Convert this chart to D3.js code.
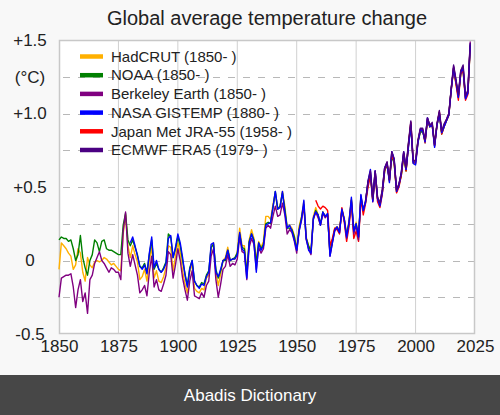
<!DOCTYPE html>
<html><head><meta charset="utf-8">
<script src="https://cdn.jsdelivr.net/npm/d3@7"></script>
<style>
html,body{margin:0;padding:0;background:#f8f8f8;}
svg{display:block;font-family:"Liberation Sans",Arial,sans-serif;}
</style></head>
<body>
<svg id="c" width="500" height="415"></svg>
<script>
const title = "Global average temperature change";
const xTicks = [1850,1875,1900,1925,1950,1975,2000,2025];
const yTickVals = [1.5,1.25,1.0,0.5,0,-0.5];
const yTickLabels = ["+1.5","(°C)","+1.0","+0.5","0","-0.5"];
const seriesNames = ["HadCRUT (1850- )","NOAA (1850- )","Berkeley Earth (1850- )","NASA GISTEMP (1880- )","Japan Met JRA-55 (1958- )","ECMWF ERA5 (1979- )"];
const seriesStart = [1850,1850,1850,1880,1958,1979];
const seriesColors = ["#ffb000","#008000","#800080","#0000ff","#ff0000","#4b0082"];
const drawOrder = [0,1,4,2,3,5];

const hadcrut = [-0.06,0.12,0.10,0.08,0.05,0.03,-0.06,-0.03,0.08,0.05,
-0.08,-0.14,0.02,-0.03,-0.05,-0.01,0.00,-0.01,0.00,0.02,
0.01,-0.01,-0.03,-0.02,-0.04,-0.06,-0.07,0.18,0.31,0.10,
0.02,0.10,0.04,-0.01,-0.13,-0.11,-0.06,-0.14,0.00,0.09,
-0.12,-0.07,-0.14,-0.15,-0.11,-0.05,0.10,0.09,-0.07,0.03,
0.12,0.05,-0.07,-0.16,-0.22,-0.08,-0.02,-0.19,-0.21,-0.22,
-0.19,-0.20,-0.12,-0.10,0.08,0.12,-0.08,-0.17,-0.09,0.00,
0.02,0.09,0.00,0.01,0.01,0.06,0.22,0.10,0.10,-0.08,
0.14,0.21,0.15,0.00,0.13,0.09,0.13,0.30,0.30,0.28,
0.38,0.46,0.35,0.37,0.47,0.37,0.22,0.24,0.22,0.17,
0.08,0.23,0.30,0.40,0.16,0.10,0.07,0.30,0.36,0.31,
0.24,0.33,0.30,0.32,0.04,0.14,0.22,0.23,0.21,0.35,
0.29,0.17,0.27,0.42,0.20,0.26,0.16,0.44,0.34,0.41,
0.53,0.60,0.41,0.60,0.42,0.38,0.47,0.62,0.66,0.54,
0.72,0.67,0.47,0.52,0.58,0.72,0.61,0.78,0.93,0.66,
0.66,0.80,0.88,0.88,0.80,0.96,0.91,0.93,0.78,0.92,
1.01,0.87,0.92,0.95,0.99,1.16,1.31,1.20,1.11,1.27,
1.30,1.10,1.14,1.47];

const noaa = [0.14,0.16,0.15,0.15,0.13,0.14,0.08,0.00,0.04,0.17,
0.02,-0.05,-0.10,0.00,0.04,0.14,0.12,0.06,0.13,0.14,
0.08,0.07,0.07,0.06,0.05,0.04,0.04,0.24,0.32,0.14,
0.10,0.14,0.09,0.04,-0.04,-0.05,-0.02,-0.08,0.04,0.14,
-0.06,-0.02,-0.06,-0.08,-0.05,-0.01,0.18,0.16,0.02,0.08,
0.16,0.10,0.00,-0.09,-0.17,-0.05,0.00,-0.14,-0.17,-0.18,
-0.15,-0.16,-0.10,-0.07,0.09,0.11,-0.06,-0.12,-0.07,0.00,
0.00,0.07,0.00,0.01,0.02,0.05,0.18,0.09,0.08,-0.09,
0.13,0.18,0.14,-0.02,0.12,0.08,0.11,0.25,0.26,0.25,
0.36,0.47,0.35,0.37,0.46,0.35,0.22,0.22,0.21,0.16,
0.07,0.21,0.29,0.38,0.15,0.10,0.06,0.28,0.34,0.31,
0.25,0.33,0.30,0.31,0.05,0.13,0.21,0.22,0.20,0.34,
0.28,0.17,0.26,0.41,0.20,0.25,0.16,0.43,0.34,0.40,
0.52,0.58,0.41,0.59,0.42,0.38,0.46,0.61,0.65,0.55,
0.71,0.66,0.47,0.51,0.58,0.71,0.61,0.79,0.92,0.67,
0.67,0.81,0.87,0.88,0.81,0.95,0.91,0.92,0.79,0.92,
1.00,0.86,0.91,0.95,0.99,1.17,1.30,1.21,1.12,1.27,
1.29,1.11,1.14,1.46];

const berkeley = [-0.25,-0.12,-0.11,-0.10,-0.10,-0.09,-0.18,-0.32,-0.20,-0.13,
-0.28,-0.22,-0.36,-0.13,-0.10,-0.02,0.02,0.06,0.00,-0.02,
-0.05,-0.08,-0.05,-0.06,-0.08,-0.08,-0.13,0.20,0.33,0.05,
-0.04,0.04,-0.03,-0.10,-0.22,-0.20,-0.17,-0.24,-0.08,0.03,
-0.18,-0.13,-0.20,-0.21,-0.16,-0.10,0.06,0.04,-0.12,-0.03,
0.08,0.00,-0.12,-0.20,-0.27,-0.14,-0.07,-0.24,-0.25,-0.26,
-0.22,-0.25,-0.17,-0.14,0.03,0.08,-0.13,-0.25,-0.16,-0.06,
-0.04,0.04,-0.04,-0.02,-0.03,0.01,0.16,0.06,0.05,-0.13,
0.09,0.15,0.11,-0.06,0.09,0.05,0.08,0.22,0.24,0.22,
0.30,0.37,0.30,0.31,0.39,0.31,0.18,0.21,0.19,0.13,
0.05,0.20,0.27,0.37,0.14,0.08,0.04,0.28,0.33,0.29,
0.24,0.32,0.29,0.31,0.03,0.12,0.20,0.22,0.19,0.34,
0.28,0.15,0.25,0.41,0.18,0.24,0.14,0.44,0.34,0.41,
0.53,0.60,0.42,0.61,0.43,0.39,0.48,0.63,0.67,0.55,
0.74,0.68,0.48,0.52,0.59,0.73,0.62,0.79,0.94,0.67,
0.67,0.81,0.89,0.89,0.80,0.97,0.92,0.93,0.78,0.93,
1.01,0.87,0.92,0.96,1.00,1.17,1.32,1.22,1.12,1.29,
1.32,1.11,1.15,1.49];

const nasa = [0.12,0.16,0.10,0.03,-0.04,-0.06,-0.03,-0.09,0.05,0.16,
-0.05,0.00,-0.06,-0.08,-0.06,-0.02,0.15,0.17,0.02,0.09,
0.18,0.12,0.02,-0.10,-0.18,-0.06,0.00,-0.14,-0.17,-0.19,
-0.16,-0.17,-0.11,-0.08,0.11,0.12,-0.08,-0.11,-0.06,0.00,
0.01,0.07,0.00,0.01,0.01,0.04,0.19,0.08,0.06,-0.12,
0.12,0.18,0.13,-0.08,0.12,0.07,0.10,0.24,0.25,0.26,
0.36,0.47,0.35,0.36,0.47,0.33,0.22,0.24,0.20,0.14,
0.07,0.20,0.28,0.41,0.15,0.07,0.05,0.29,0.33,0.31,
0.24,0.33,0.30,0.32,0.03,0.12,0.21,0.23,0.19,0.35,
0.28,0.16,0.26,0.43,0.20,0.25,0.16,0.45,0.34,0.40,
0.54,0.62,0.40,0.61,0.42,0.37,0.46,0.63,0.66,0.53,
0.74,0.69,0.47,0.51,0.60,0.74,0.62,0.77,0.92,0.66,
0.65,0.80,0.89,0.88,0.81,0.97,0.91,0.92,0.77,0.92,
1.00,0.87,0.91,0.95,0.99,1.16,1.31,1.22,1.11,1.28,
1.31,1.10,1.14,1.47];

const jra55 = [0.41,0.37,0.35,0.37,0.36,0.34,0.10,0.15,0.22,0.21,
0.18,0.36,0.26,0.13,0.23,0.40,0.15,0.20,0.13,0.42,
0.31,0.39,0.50,0.58,0.40,0.59,0.40,0.36,0.45,0.61,
0.66,0.54,0.72,0.67,0.46,0.50,0.58,0.73,0.61,0.78,
0.94,0.67,0.66,0.81,0.89,0.89,0.81,0.96,0.91,0.92,
0.78,0.92,1.01,0.86,0.91,0.95,0.99,1.16,1.31,1.20,
1.09,1.27,1.29,1.09,1.13,1.46];

const era5 = [0.41,0.54,0.61,0.42,0.61,0.43,0.39,0.48,0.63,0.67,
0.55,0.74,0.69,0.48,0.52,0.60,0.74,0.63,0.80,0.95,
0.68,0.68,0.82,0.90,0.90,0.82,0.97,0.92,0.94,0.79,
0.93,1.02,0.88,0.93,0.96,1.00,1.17,1.33,1.23,1.13,
1.29,1.33,1.12,1.16,1.48];

const seriesValues = [hadcrut, noaa, berkeley, nasa, jra55, era5];

const svg = d3.select("#c");
const W = 500, H = 415;
const m = {left:59, right:475, top:40, bottom:334};

svg.append("rect").attr("x",0).attr("y",0).attr("width",W).attr("height",H).attr("fill","#f8f8f8");

const x = d3.scaleLinear().domain([1850,2025]).range([m.left, m.right]);
const y = d3.scaleLinear().domain([-0.5,1.5]).range([m.bottom, m.top]);

svg.append("rect").attr("x",m.left).attr("y",m.top).attr("width",m.right-m.left).attr("height",m.bottom-m.top).attr("fill","#ffffff");

svg.append("g").selectAll("line").data(xTicks.slice(1,-1)).join("line")
  .attr("x1",d=>x(d)).attr("x2",d=>x(d)).attr("y1",m.top).attr("y2",m.bottom)
  .attr("stroke","#d0d0d0").attr("stroke-width",1);

const hGrid = d3.range(-0.25,1.5,0.25);
svg.append("g").selectAll("line").data(hGrid).join("line")
  .attr("x1",m.left).attr("x2",m.right).attr("y1",d=>Math.round(y(d))+0.5).attr("y2",d=>Math.round(y(d))+0.5)
  .attr("stroke","#b8b8b8").attr("stroke-width",1).attr("stroke-dasharray","7,8").attr("stroke-dashoffset",-4);

svg.append("rect").attr("x",m.left+0.5).attr("y",m.top+0.5).attr("width",m.right-m.left-1).attr("height",m.bottom-m.top-1)
  .attr("fill","none").attr("stroke","#c8c8c8").attr("stroke-width",1.5);

const line = d3.line().x(d=>x(d[0])).y(d=>y(d[1]));
drawOrder.forEach(i=>{
  const vals = seriesValues[i];
  const pts = vals.map((v,j)=>[seriesStart[i]+j, v]);
  svg.append("path").datum(pts).attr("d",line).attr("fill","none")
    .attr("stroke",seriesColors[i]).attr("stroke-width",1.4).attr("stroke-linejoin","round");
});

svg.append("g").selectAll("text").data(yTickVals).join("text")
  .attr("x",30).attr("y",d=>y(d)).attr("dy","0.35em").attr("text-anchor","middle")
  .attr("font-size",17).attr("fill","#222")
  .text((d,i)=>yTickLabels[i]);

const xAxis = d3.axisBottom(x).tickValues(xTicks).tickFormat(d3.format("d")).tickSize(0);
const gx = svg.append("g").attr("transform",`translate(0,${m.bottom})`).call(xAxis);
gx.select(".domain").remove();
gx.selectAll("text").attr("font-size",17).attr("fill","#222").attr("font-family","Liberation Sans, Arial, sans-serif").attr("dy","0.95em").attr("y",2);

svg.append("text").attr("x",267).attr("y",25).attr("text-anchor","middle")
  .attr("font-size",20).attr("fill","#222").text(title);

const lg = svg.append("g");
seriesNames.forEach((n,i)=>{
  const cy = 56.5 + i*18.7;
  lg.append("line").attr("x1",80).attr("x2",103).attr("y1",cy).attr("y2",cy)
    .attr("stroke",seriesColors[i]).attr("stroke-width",4.5);
  lg.append("text").attr("x",111).attr("y",cy).attr("dy","0.35em")
    .attr("font-size",15).attr("fill","#222").text(n);
});

svg.append("rect").attr("x",0).attr("y",375).attr("width",W).attr("height",40).attr("fill","#474747");
svg.append("text").attr("x",250).attr("y",395).attr("dy","0.35em").attr("text-anchor","middle")
  .attr("font-size",17).attr("fill","#ffffff").text("Abadis Dictionary");
</script>
</body></html>
